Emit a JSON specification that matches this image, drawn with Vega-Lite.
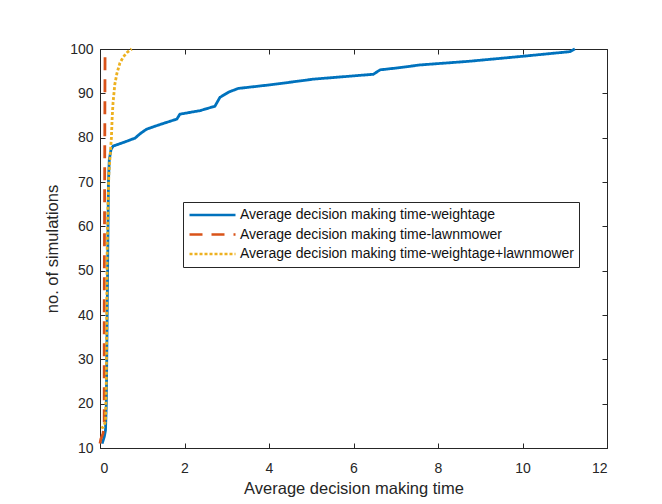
{
  "$schema": "https://vega.github.io/schema/vega-lite/v6.json",
  "width": 507,
  "height": 399,
  "autosize": {"type": "none"},
  "padding": {"left": 100, "top": 49, "right": 55, "bottom": 56},
  "background": "white",
  "config": {
    "font": "Liberation Sans",
    "view": {"stroke": "#262626", "strokeWidth": 1},
    "axis": {
      "grid": false,
      "domainColor": "#262626",
      "tickColor": "#262626",
      "labelColor": "#262626",
      "titleColor": "#262626",
      "labelFont": "Liberation Sans",
      "titleFont": "Liberation Sans",
      "labelFontSize": 14,
      "titleFontSize": 16.5,
      "titleFontWeight": "normal",
      "tickSize": -5
    },
    "legend": {
      "orient": "none",
      "legendX": 83,
      "legendY": 153,
      "symbolType": "stroke",
      "symbolSize": 2116,
      "symbolStrokeWidth": 2.6,
      "clipHeight": 16,
      "rowPadding": 3.5,
      "padding": 5,
      "labelOffset": 3,
      "strokeColor": "#262626",
      "fillColor": "white",
      "labelFont": "Liberation Sans",
      "labelFontSize": 14,
      "labelColor": "#111111",
      "labelLimit": 600
    }
  },
  "datasets": {
    "curves": [
      {"method": "Average decision making time-weightage", "time": 0.05, "simulations": 11},
      {"method": "Average decision making time-weightage", "time": 0.1, "simulations": 12.5},
      {"method": "Average decision making time-weightage", "time": 0.13, "simulations": 14},
      {"method": "Average decision making time-weightage", "time": 0.15, "simulations": 20},
      {"method": "Average decision making time-weightage", "time": 0.17, "simulations": 40},
      {"method": "Average decision making time-weightage", "time": 0.19, "simulations": 60},
      {"method": "Average decision making time-weightage", "time": 0.2, "simulations": 70},
      {"method": "Average decision making time-weightage", "time": 0.22, "simulations": 75},
      {"method": "Average decision making time-weightage", "time": 0.26, "simulations": 77.3},
      {"method": "Average decision making time-weightage", "time": 0.31, "simulations": 78.1},
      {"method": "Average decision making time-weightage", "time": 0.55, "simulations": 78.9},
      {"method": "Average decision making time-weightage", "time": 0.83, "simulations": 79.9},
      {"method": "Average decision making time-weightage", "time": 0.95, "simulations": 80.9},
      {"method": "Average decision making time-weightage", "time": 1.1, "simulations": 81.9},
      {"method": "Average decision making time-weightage", "time": 1.4, "simulations": 82.9},
      {"method": "Average decision making time-weightage", "time": 1.82, "simulations": 84.2},
      {"method": "Average decision making time-weightage", "time": 1.89, "simulations": 85.3},
      {"method": "Average decision making time-weightage", "time": 2.37, "simulations": 86.1},
      {"method": "Average decision making time-weightage", "time": 2.72, "simulations": 87.1},
      {"method": "Average decision making time-weightage", "time": 2.84, "simulations": 89.1},
      {"method": "Average decision making time-weightage", "time": 3.05, "simulations": 90.3},
      {"method": "Average decision making time-weightage", "time": 3.27, "simulations": 91.1},
      {"method": "Average decision making time-weightage", "time": 4.1, "simulations": 92},
      {"method": "Average decision making time-weightage", "time": 5.05, "simulations": 93.2},
      {"method": "Average decision making time-weightage", "time": 6.47, "simulations": 94.3},
      {"method": "Average decision making time-weightage", "time": 6.63, "simulations": 95.3},
      {"method": "Average decision making time-weightage", "time": 7.1, "simulations": 95.8},
      {"method": "Average decision making time-weightage", "time": 7.57, "simulations": 96.4},
      {"method": "Average decision making time-weightage", "time": 8.7, "simulations": 97.2},
      {"method": "Average decision making time-weightage", "time": 9.94, "simulations": 98.3},
      {"method": "Average decision making time-weightage", "time": 11.12, "simulations": 99.4},
      {"method": "Average decision making time-weightage", "time": 11.24, "simulations": 100},
      {"method": "Average decision making time-lawnmower", "time": 0.0, "simulations": 11},
      {"method": "Average decision making time-lawnmower", "time": 0.02, "simulations": 12},
      {"method": "Average decision making time-lawnmower", "time": 0.07, "simulations": 13.2},
      {"method": "Average decision making time-lawnmower", "time": 0.1, "simulations": 15},
      {"method": "Average decision making time-lawnmower", "time": 0.1, "simulations": 40},
      {"method": "Average decision making time-lawnmower", "time": 0.11, "simulations": 70},
      {"method": "Average decision making time-lawnmower", "time": 0.12, "simulations": 100},
      {"method": "Average decision making time-weightage+lawnmower", "time": 0.03, "simulations": 14.5},
      {"method": "Average decision making time-weightage+lawnmower", "time": 0.08, "simulations": 14.7},
      {"method": "Average decision making time-weightage+lawnmower", "time": 0.13, "simulations": 16},
      {"method": "Average decision making time-weightage+lawnmower", "time": 0.15, "simulations": 25},
      {"method": "Average decision making time-weightage+lawnmower", "time": 0.16, "simulations": 40},
      {"method": "Average decision making time-weightage+lawnmower", "time": 0.17, "simulations": 55},
      {"method": "Average decision making time-weightage+lawnmower", "time": 0.19, "simulations": 65},
      {"method": "Average decision making time-weightage+lawnmower", "time": 0.21, "simulations": 72},
      {"method": "Average decision making time-weightage+lawnmower", "time": 0.24, "simulations": 76},
      {"method": "Average decision making time-weightage+lawnmower", "time": 0.27, "simulations": 80},
      {"method": "Average decision making time-weightage+lawnmower", "time": 0.29, "simulations": 85},
      {"method": "Average decision making time-weightage+lawnmower", "time": 0.31, "simulations": 88},
      {"method": "Average decision making time-weightage+lawnmower", "time": 0.35, "simulations": 92},
      {"method": "Average decision making time-weightage+lawnmower", "time": 0.4, "simulations": 94.5},
      {"method": "Average decision making time-weightage+lawnmower", "time": 0.47, "simulations": 96.8},
      {"method": "Average decision making time-weightage+lawnmower", "time": 0.55, "simulations": 98.2},
      {"method": "Average decision making time-weightage+lawnmower", "time": 0.65, "simulations": 99.3},
      {"method": "Average decision making time-weightage+lawnmower", "time": 0.75, "simulations": 100}
    ]
  },
  "resolve": {"axis": {"x": "independent", "y": "independent"}},
  "layer": [
    {
      "data": {"name": "curves"},
      "mark": {"type": "line", "strokeWidth": 2.8, "strokeJoin": "round"},
      "encoding": {
        "x": {
          "field": "time",
          "type": "quantitative",
          "scale": {"domain": [0, 12], "nice": false},
          "axis": {
            "orient": "bottom",
            "title": "Average decision making time",
            "values": [0, 2, 4, 6, 8, 10, 12],
            "labelPadding": 18,
            "titlePadding": 5
          }
        },
        "y": {
          "field": "simulations",
          "type": "quantitative",
          "scale": {"domain": [10, 100], "nice": false, "zero": false},
          "axis": {
            "orient": "left",
            "title": "no. of simulations",
            "values": [10, 20, 30, 40, 50, 60, 70, 80, 90, 100],
            "labelPadding": 12,
            "titlePadding": 9
          }
        },
        "color": {
          "field": "method",
          "type": "nominal",
          "scale": {
            "domain": ["Average decision making time-weightage", "Average decision making time-lawnmower", "Average decision making time-weightage+lawnmower"],
            "range": ["#0072BD", "#D95319", "#EDB120"]
          },
          "legend": {"title": null}
        },
        "strokeDash": {
          "field": "method",
          "type": "nominal",
          "scale": {
            "domain": ["Average decision making time-weightage", "Average decision making time-lawnmower", "Average decision making time-weightage+lawnmower"],
            "range": [[1, 0], [13, 9], [3, 2]]
          },
          "legend": {"title": null}
        },
        "order": {"field": "simulations", "type": "quantitative"}
      }
    },
    {
      "data": {"name": "curves"},
      "mark": {"type": "point", "opacity": 0},
      "encoding": {
        "x": {
          "field": "time",
          "type": "quantitative",
          "axis": {"orient": "top", "labels": false, "domain": false, "title": null, "values": [0, 2, 4, 6, 8, 10, 12]}
        },
        "y": {
          "field": "simulations",
          "type": "quantitative",
          "axis": {"orient": "right", "labels": false, "domain": false, "title": null, "values": [10, 20, 30, 40, 50, 60, 70, 80, 90, 100]}
        }
      }
    }
  ]
}
